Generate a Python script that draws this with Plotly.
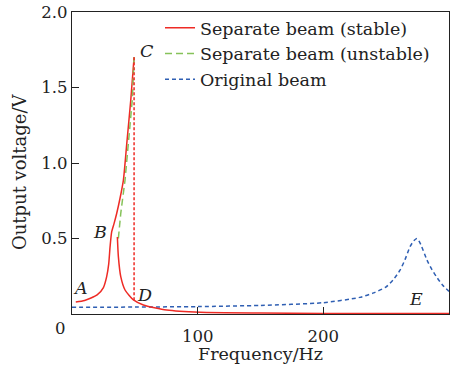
import plotly.graph_objects as go

# ---- data ----
stable_up_f = [3, 10, 20, 25, 27.6, 29.2, 30.3, 31.6, 33.5, 35.6, 38.3, 40.9, 43.6, 46.8, 49.4]
stable_up_v = [0.08, 0.09, 0.126, 0.175, 0.247, 0.33, 0.446, 0.545, 0.60, 0.667, 0.77, 0.887, 1.13, 1.42, 1.70]

stable_down_f = [36.1, 36.9, 38.8, 42.2, 48.9, 56.8, 75.4, 102, 150, 200, 250, 300]
stable_down_v = [0.51, 0.38, 0.247, 0.159, 0.093, 0.06, 0.026, 0.011, 0.006, 0.004, 0.003, 0.003]

jump_f = [49.4, 49.4]
jump_v = [1.70, 0.09]

unstable_f = [36.9, 38.8, 42.2, 44.9, 48.0, 49.4]
unstable_v = [0.50, 0.667, 0.887, 1.13, 1.42, 1.70]

orig_f = [0, 50, 100, 150, 200, 229, 240, 250, 256, 261, 265, 269, 272, 274.5, 277, 282.5, 286, 290, 295, 300]
orig_v = [0.044, 0.046, 0.049, 0.057, 0.075, 0.11, 0.14, 0.18, 0.23, 0.29, 0.36, 0.446, 0.485, 0.50, 0.47, 0.357, 0.30, 0.247, 0.19, 0.15]

x_ticks = [100, 200, 300]
y_ticks = [0.5, 1.0, 1.5, 2.0]
y_tick_text = ["0.5", "1.0", "1.5", "2.0"]

x_title = "Frequency/Hz"
y_title = "Output voltage/V"

point_labels = ["A", "B", "C", "D", "E"]
point_f = [6.4, 22.3, 59.5, 57.4, 274]
point_v = [0.17, 0.54, 1.74, 0.126, 0.097]

RED = "#ee2b25"
GREEN = "#86c25a"
BLUE = "#2f5fb3"
FONT = "DejaVu Serif"
FS = 17.5
TFS = 16.5
W, H = 464, 366
ML, MR, MT, MB = 72, 15, 12, 52
PW, PH = W - ML - MR, H - MT - MB

fig = go.Figure()
fig.add_trace(go.Scatter(x=stable_up_f, y=stable_up_v, mode="lines", name="Separate beam (stable)",
                         line=dict(color=RED, width=1.5, shape="spline", smoothing=0.6)))
fig.add_trace(go.Scatter(x=unstable_f, y=unstable_v, mode="lines", name="Separate beam (unstable)",
                         line=dict(color=GREEN, width=1.5, dash="7px,4px")))
fig.add_trace(go.Scatter(x=orig_f, y=orig_v, mode="lines", name="Original beam",
                         line=dict(color=BLUE, width=1.5, dash="4px,3px", shape="spline", smoothing=0.6)))
fig.add_trace(go.Scatter(x=stable_down_f, y=stable_down_v, mode="lines", showlegend=False,
                         line=dict(color=RED, width=1.5, shape="spline", smoothing=0.6)))
fig.add_trace(go.Scatter(x=jump_f, y=jump_v, mode="lines", showlegend=False,
                         line=dict(color=RED, width=1.5, dash="3px,2px")))

for lab, f, v in zip(point_labels, point_f, point_v):
    fig.add_annotation(x=f, y=v, text="<i>%s</i>" % lab, showarrow=False,
                       font=dict(family=FONT, size=FS, color="#222"))

fig.add_annotation(x=0, y=0, xref="paper", yref="paper", text="0", showarrow=False,
                   xanchor="center", yanchor="middle",
                   xshift=-12, yshift=-14, font=dict(family=FONT, size=TFS, color="#222"))

# axis titles
fig.add_annotation(x=(260 - ML) / PW, y=(H - MB - 354) / PH, xref="paper", yref="paper", text=x_title,
                   showarrow=False, xanchor="center", yanchor="middle",
                   font=dict(family=FONT, size=FS, color="#222"))
fig.add_annotation(x=(19 - ML) / PW, y=0.47, xref="paper", yref="paper", text=y_title, textangle=-90,
                   showarrow=False, xanchor="center", yanchor="middle",
                   font=dict(family=FONT, size=18, color="#222"))

fig.update_layout(
    width=W, height=H,
    margin=dict(l=ML, r=MR, t=MT, b=MB, autoexpand=False),
    paper_bgcolor="white", plot_bgcolor="white",
    font=dict(family=FONT, size=TFS, color="#222"),
    legend=dict(xref="container", yref="container", x=160 / W, y=0.973, xanchor="left", yanchor="top",
                bgcolor="rgba(0,0,0,0)", font=dict(family=FONT, size=FS, color="#222"), tracegroupgap=0),
    showlegend=True,
)
fig.update_xaxes(range=[0, 300], tickvals=x_ticks, ticks="inside", ticklen=7, tickcolor="#222",
                 showline=True, linecolor="#222", linewidth=1.2, mirror=True, showgrid=False, zeroline=False,
                 ticklabelstandoff=7, automargin=False, tickfont=dict(size=TFS))
fig.update_yaxes(range=[0, 2], tickvals=y_ticks, ticktext=y_tick_text, ticks="inside", ticklen=7,
                 tickcolor="#222", showline=True, linecolor="#222", linewidth=1.2, mirror=True,
                 showgrid=False, zeroline=False, ticklabelstandoff=0, automargin=False,
                 tickfont=dict(size=TFS))

fig.write_html("out.html")
